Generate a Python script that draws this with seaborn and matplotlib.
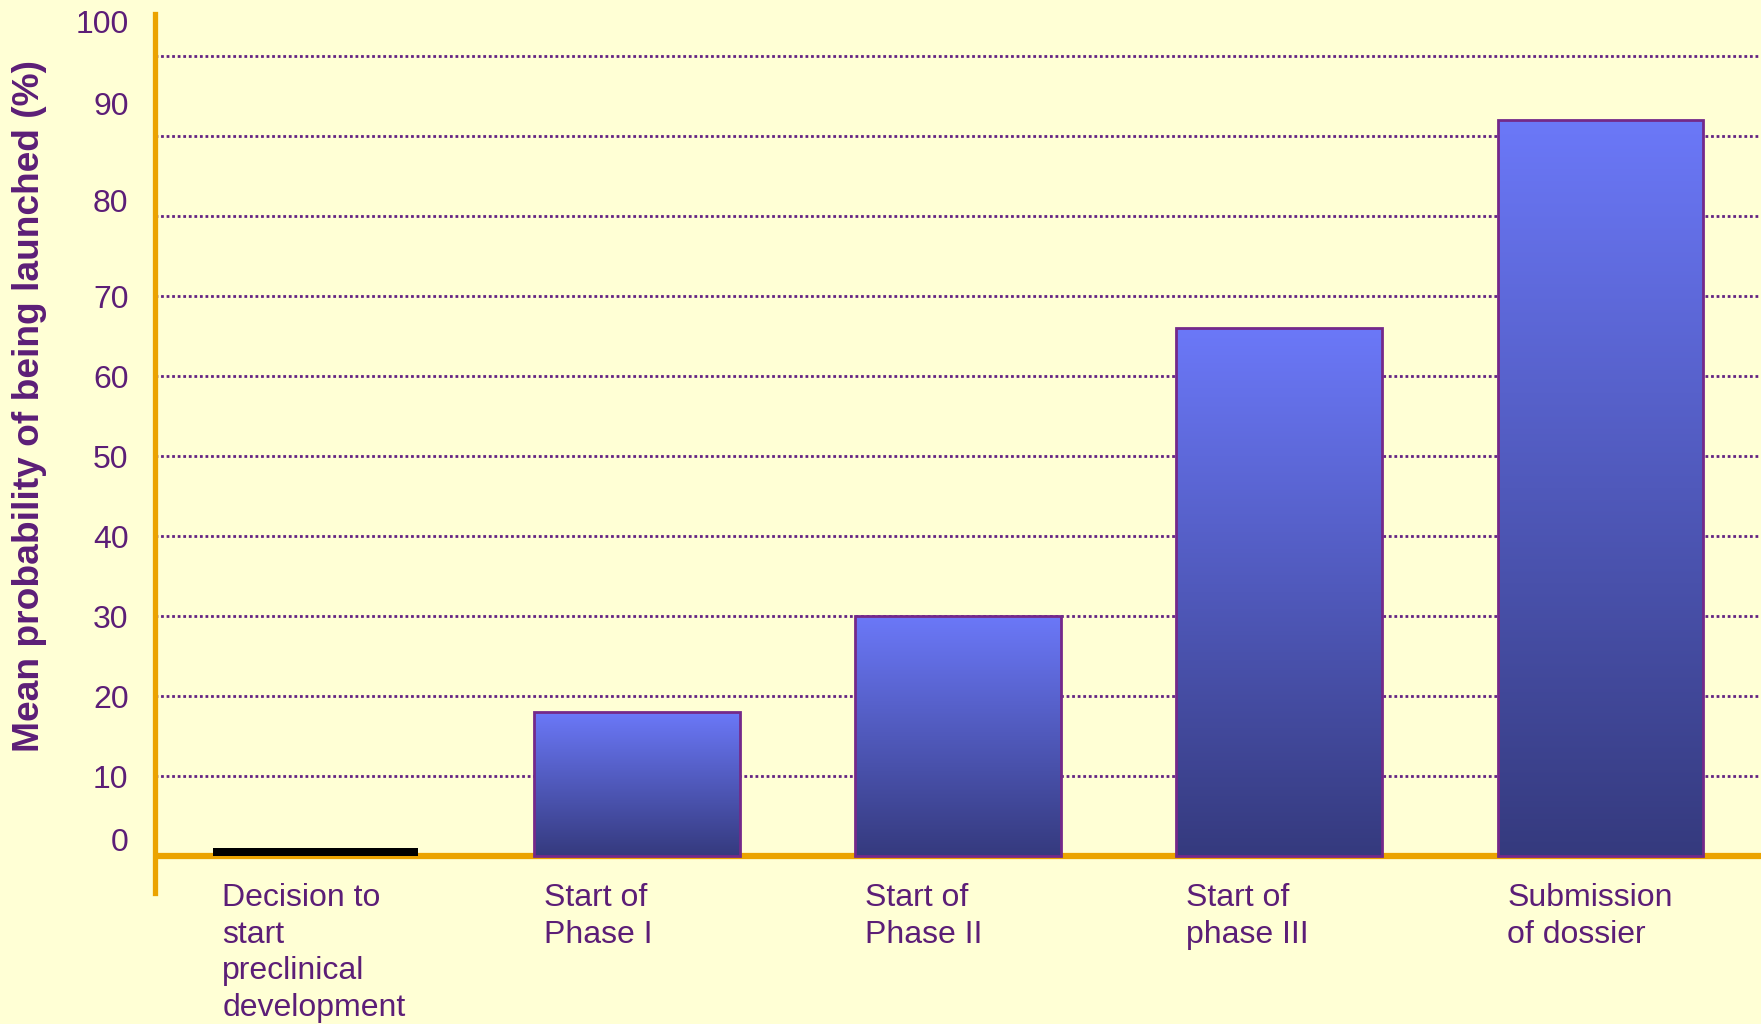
import numpy as np
import pandas as pd
import matplotlib
matplotlib.use("Agg")
import matplotlib.pyplot as plt
import seaborn as sns
from matplotlib.colors import LinearSegmentedColormap

# data
stages = ["Decision to\nstart\npreclinical\ndevelopment", "Start of\nPhase I",
          "Start of\nPhase II", "Start of\nphase III", "Submission\nof dossier"]
probability = [1, 18, 30, 66, 92]
tick_values = [0, 10, 20, 30, 40, 50, 60, 70, 80, 90, 100]
tick_nudge = [2.1, 0, 0, 0, 0, 0, 0, 0, 2, 4.1, 4.3]   # labels sit a bit off the grid in the original

bg = "#FFFFD5"
purple = "#5C1E77"
orange = "#EBA300"
edge = "#74298A"

df = pd.DataFrame({"stage": stages, "prob": probability})

sns.set_style("white")
plt.rcParams["font.family"] = ["Liberation Sans", "DejaVu Sans"]

fig = plt.figure(figsize=(17.61, 10.24), dpi=100, facecolor=bg)
ax = fig.add_axes([155 / 1761, 1 - 893 / 1024, 1 - 155 / 1761, (893 - 14) / 1024])
ax.set_facecolor(bg)

sns.barplot(data=df, x="stage", y="prob", hue="stage", palette=["black"] + ["#5560D0"] * 4,
            width=0.64, legend=False, ax=ax, zorder=3)

# gradient fill for the real bars
cmap = LinearSegmentedColormap.from_list("bars", ["#353A7E", "#6B78F8"])
grad = np.linspace(0, 1, 256).reshape(-1, 1)
for i, p in enumerate(ax.patches):
    if i == 0:
        p.set_edgecolor("none")
        continue
    x0, y0, w, h = p.get_x(), p.get_y(), p.get_width(), p.get_height()
    im = ax.imshow(grad, extent=[x0, x0 + w, y0, y0 + h], origin="lower", cmap=cmap,
                   aspect="auto", zorder=2.5)
    im.set_clip_path(p)
    p.set_facecolor("none")
    p.set_edgecolor(edge)
    p.set_linewidth(2.0)

ax.set_xlim(-0.5, 4.5)
ax.set_ylim(-4.6, 105.3)

# dotted grid
for v in tick_values[1:]:
    ax.axhline(v, color="#632383", lw=2.0, ls=(0, (1, 1)), zorder=1)

# baseline
ax.axhline(0, color=orange, lw=4.5, zorder=2)

for s in ["top", "right", "bottom"]:
    ax.spines[s].set_visible(False)
ax.spines["left"].set_color(orange)
ax.spines["left"].set_linewidth(3.8)

ax.set_yticks([v + n for v, n in zip(tick_values, tick_nudge)], [str(v) for v in tick_values])
ax.tick_params(axis="y", length=0, pad=19, labelsize=23, labelcolor=purple)
ax.set_xticks([])
ax.set_xlabel("")
ax.set_ylabel("Mean probability of being launched (%)", fontsize=26.7, fontweight="bold", color=purple)
ax.yaxis.set_label_coords(-0.067, 0.554)

for i, s in enumerate(stages):
    ax.text(i - 0.29, -3.3, s, ha="left", va="top", fontsize=23, color=purple,
            linespacing=1.3, clip_on=False)

fig.savefig("out.png", dpi=100, facecolor=bg)
